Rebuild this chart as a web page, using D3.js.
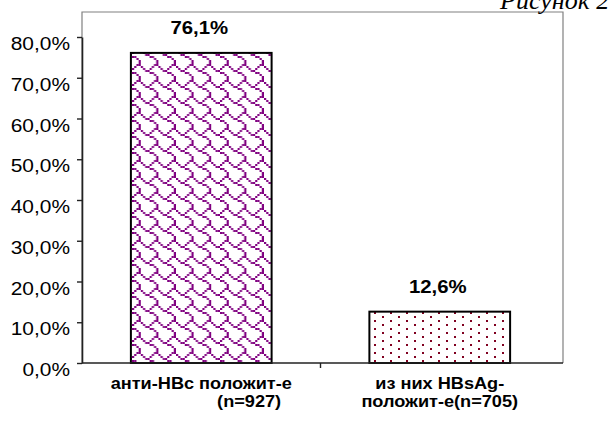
<!DOCTYPE html>
<html>
<head>
<meta charset="utf-8">
<script src="https://cdn.jsdelivr.net/npm/d3@7"></script>
<style>
  html, body { margin: 0; padding: 0; background: #fff; }
  svg { display: block; }
  .sans { font-family: "Liberation Sans", Arial, sans-serif; }
  .serif { font-family: "Liberation Serif", "Times New Roman", serif; font-style: italic; }
</style>
</head>
<body>
<svg id="chart" width="608" height="421"></svg>
<script>
// Доля положительных результатов (%)
const categories = ["anti", "hbsag"];
const categoryLines = [
  ["анти-НВс положит-е", "                   (n=927)"],
  ["из них HBsAg-", "положит-е(n=705)"]
];
const values = [76.1, 12.6];
const yTicks = [0, 10, 20, 30, 40, 50, 60, 70, 80];
const figureCaption = "Рисунок 2";

const svg = d3.select("#chart");
const ruLocale = d3.formatLocale({ decimal: ",", thousands: " ", grouping: [3], currency: ["", ""] });
const fmt = v => ruLocale.format(".1f")(v) + "%";

const plot = { left: 82, top: 12, right: 563, bottom: 363 };
const WIDEN = 1.1; // horizontal widening of chart lettering

const y = d3.scaleLinear().domain([0, 80]).range([plot.bottom, 37]);
const x = d3.scaleBand().domain(categories).range([plot.left, 559]);
const barW = x.bandwidth() * 0.59;

// widen a text horizontally around its anchor x
function widen(sel, ax) {
  sel.attr("transform", function (d, i) {
    const X = typeof ax === "function" ? ax(d, i) : ax;
    return `translate(${X},0) scale(${WIDEN},1) translate(${-X},0)`;
  });
}

// Fill patterns (scaled 8x8 hatch bitmaps)
const defs = svg.append("defs");
function hatch(id, rows, color, cw, ch) {
  const p = defs.append("pattern")
    .attr("id", id)
    .attr("patternUnits", "userSpaceOnUse")
    .attr("width", 8 * cw).attr("height", 8 * ch);
  p.append("rect").attr("width", 8 * cw).attr("height", 8 * ch).attr("fill", "#fff");
  rows.forEach((r, j) => {
    for (let i = 0; i < 8; i++) {
      if (r & (0x80 >> i)) {
        p.append("rect")
          .attr("x", i * cw).attr("y", j * ch)
          .attr("width", cw).attr("height", ch)
          .attr("fill", color);
      }
    }
  });
}
hatch("shingle", [0x03, 0x84, 0x48, 0x30, 0x0c, 0x02, 0x01, 0x01], "#800080", 2.2, 2);
hatch("dots", [0x10, 0x00, 0x01, 0x00, 0x10, 0x00, 0x01, 0x00], "#800020", 2, 2);
const fills = ["url(#shingle)", "url(#dots)"];

// Plot area frame
svg.append("path")
  .attr("d", `M${plot.left},${plot.bottom}V${plot.top}H${plot.right}V${plot.bottom}`)
  .attr("fill", "none")
  .attr("stroke", "#808080")
  .attr("stroke-width", 1.2);

// Bars
svg.selectAll("rect.bar")
  .data(values)
  .join("rect")
  .attr("class", "bar")
  .attr("x", (d, i) => x(categories[i]) + (x.bandwidth() - barW) / 2)
  .attr("y", d => y(d))
  .attr("width", barW)
  .attr("height", d => y(0) - y(d))
  .attr("fill", (d, i) => fills[i])
  .attr("stroke", "#000")
  .attr("stroke-width", 2);

// Value labels
const valX = (d, i) => x(categories[i]) + x.bandwidth() / 2 - 2;
svg.selectAll("text.val")
  .data(values)
  .join("text")
  .attr("class", "val sans")
  .attr("x", valX)
  .attr("y", d => y(d) - 19)
  .attr("text-anchor", "middle")
  .attr("font-size", 18.5)
  .attr("font-weight", "bold")
  .attr("fill", "#000")
  .text(d => fmt(d))
  .call(widen, valX);

// Y axis
const yAxis = d3.axisLeft(y).tickValues(yTicks).tickSize(5).tickSizeOuter(0).tickFormat(fmt);
const gy = svg.append("g").attr("transform", `translate(${plot.left},0)`).call(yAxis);
gy.attr("font-family", null).attr("font-size", null);
gy.select(".domain").attr("stroke", "#222").attr("stroke-width", 1.6);
gy.selectAll(".tick line").attr("stroke", "#222").attr("stroke-width", 1.4);
gy.selectAll(".tick text")
  .attr("class", "sans")
  .attr("x", -12)
  .attr("dy", "0.66em")
  .attr("font-size", 19)
  .attr("fill", "#000")
  .call(widen, -12);

// Category axis
svg.append("line")
  .attr("x1", plot.left).attr("x2", plot.right)
  .attr("y1", y(0)).attr("y2", y(0))
  .attr("stroke", "#222").attr("stroke-width", 1.6);
svg.selectAll("line.ctick")
  .data(categories.slice(1))
  .join("line")
  .attr("class", "ctick")
  .attr("x1", d => x(d)).attr("x2", d => x(d))
  .attr("y1", y(0)).attr("y2", y(0) + 5)
  .attr("stroke", "#222").attr("stroke-width", 1.4);

// Category labels
const catX = d => x(d) + x.bandwidth() / 2;
const cl = svg.selectAll("text.cat")
  .data(categories)
  .join("text")
  .attr("class", "cat sans")
  .attr("text-anchor", "middle")
  .attr("font-size", 16.5)
  .attr("font-weight", "bold")
  .attr("fill", "#000")
  .style("white-space", "pre")
  .call(widen, catX);
cl.each(function (d, i) {
  const t = d3.select(this);
  categoryLines[i].forEach((line, k) => {
    t.append("tspan")
      .attr("x", catX(d))
      .attr("y", 389 + k * 18)
      .text(line);
  });
});

// Caption in the top right corner
svg.append("text")
  .attr("class", "serif")
  .attr("x", 500)
  .attr("y", 9)
  .attr("font-size", 26)
  .attr("fill", "#000")
  .text(figureCaption);
</script>
</body>
</html>
